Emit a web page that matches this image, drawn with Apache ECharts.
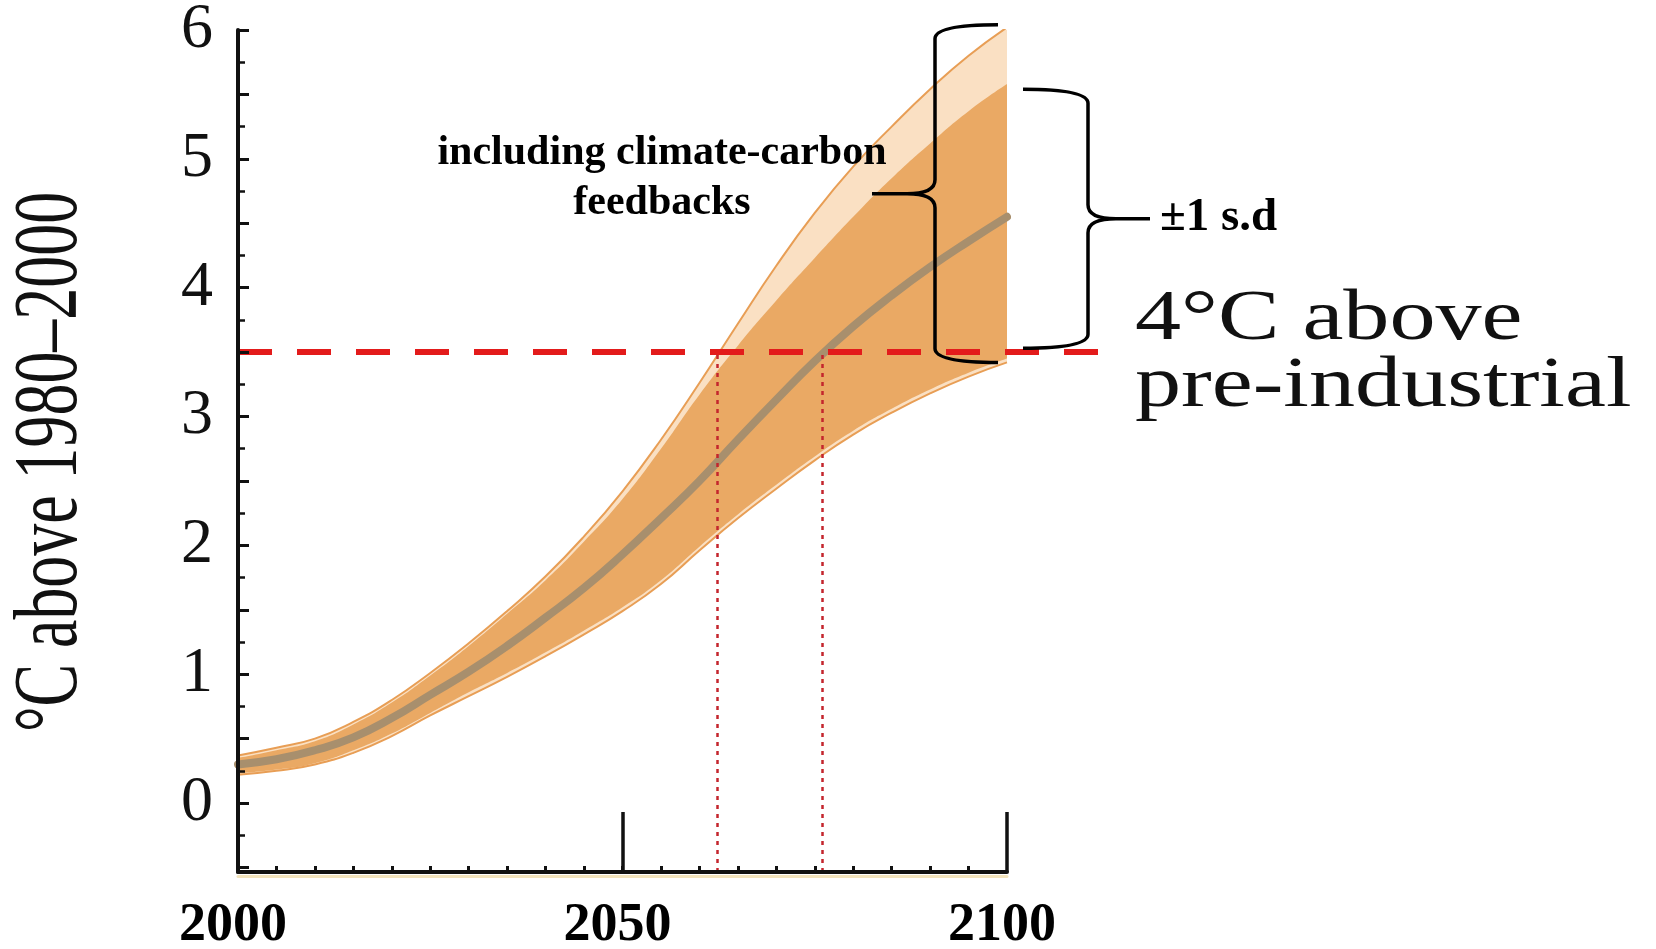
<!DOCTYPE html>
<html>
<head>
<meta charset="utf-8">
<title>Warming projection</title>
<script src="https://cdn.jsdelivr.net/npm/echarts@6/dist/echarts.min.js"></script>
<style>
  html, body { margin: 0; padding: 0; background: #fff; }
  #chart { width: 1656px; height: 949px; }
</style>
</head>
<body>
<div id="chart"></div>
<script>
// values (degC above 1980-2000)
const years = [2000, 2005, 2010, 2015, 2020, 2025, 2030, 2035, 2040, 2045, 2050,
               2055, 2060, 2065, 2070, 2075, 2080, 2085, 2090, 2095, 2100];
const meanT = [0.30, 0.34, 0.41, 0.51, 0.66, 0.84, 1.02, 1.22, 1.44, 1.67, 1.93,
               2.21, 2.50, 2.82, 3.13, 3.43, 3.70, 3.94, 4.16, 4.36, 4.55];
// band with climate-carbon feedbacks (light)
const outerUp = [0.37, 0.43, 0.50, 0.63, 0.80, 1.01, 1.24, 1.49, 1.76, 2.07, 2.42,
                 2.82, 3.26, 3.72, 4.17, 4.58, 4.94, 5.25, 5.54, 5.80, 6.02];
const outerLo = [0.22, 0.25, 0.30, 0.39, 0.52, 0.68, 0.83, 0.98, 1.14, 1.31, 1.49,
                 1.70, 1.96, 2.21, 2.44, 2.66, 2.86, 3.03, 3.18, 3.31, 3.42];
// +-1 s.d. band (dark)
const darkUp = [0.35, 0.41, 0.48, 0.61, 0.78, 0.99, 1.22, 1.47, 1.73, 2.03, 2.36,
                2.75, 3.17, 3.55, 3.90, 4.23, 4.55, 4.85, 5.12, 5.37, 5.58];
const darkLo = [0.23, 0.26, 0.31, 0.41, 0.54, 0.70, 0.86, 1.01, 1.17, 1.34, 1.52,
                1.73, 1.99, 2.24, 2.47, 2.69, 2.89, 3.06, 3.21, 3.34, 3.45];

const yLabels = [0, 1, 2, 3, 4, 5, 6];
const yMajorTicks = [-0.5, 0, 0.5, 1, 1.5, 2, 2.5, 3, 3.5, 4, 4.5, 5, 5.5, 6];
const yMinorTicks = [-0.25, 0.25, 0.75, 1.25, 1.75, 2.25, 2.75, 3.25, 3.75, 4.25, 4.75, 5.25, 5.75];
const xLabels = [2000, 2050, 2100];
const xTicks = [2005, 2010, 2015, 2020, 2025, 2030, 2035, 2040, 2045, 2050,
                2055, 2060, 2065, 2070, 2075, 2080, 2085, 2090, 2095];
const xLongTicks = [2050, 2100];

const threshold = 3.5;             // 4 degC above pre-industrial
const thresholdEnd = 2112.5;       // dashed line runs past the axis end
const crossYears = [2062.3, 2076]; // dotted drop lines
const braceRanges = [[3.42, 6.04], [3.53, 5.54]]; // at 2100

const yMin = -0.535, yMax = 6;
const SERIF = '"Liberation Serif", "Times New Roman", serif';
const LIGHT = '#FAE0C3', DARK = '#EAA964';

function pts(arr) {
  return years.map((y, i) => [y, arr[i]]);
}

const chart = echarts.init(document.getElementById('chart'), null, { renderer: 'canvas' });

// each layer is filled down to the axis start, later layers paint over earlier ones
function fillLayer(name, data, color) {
  return {
    name: name, type: 'line', xAxisIndex: 0, yAxisIndex: 0,
    data: data, smooth: true, symbol: 'none',
    lineStyle: { width: 0, opacity: 0 },
    areaStyle: { color: color, opacity: 1, origin: 'start' },
    silent: true, z: 2
  };
}
function edgeLine(name, data) {
  return {
    name: name, type: 'line', xAxisIndex: 0, yAxisIndex: 0,
    data: data, smooth: true, symbol: 'none',
    lineStyle: { color: '#E89E55', width: 2 }, silent: true, z: 2
  };
}

// curly braces drawn from data values at 2100
function braceItem(params, api) {
  const i = params.dataIndex;
  const top = api.coord([api.value(0), api.value(2)]);
  const bot = api.coord([api.value(0), api.value(1)]);
  const dir = i === 0 ? -1 : 1;
  const sx = top[0] + (i === 0 ? -72 : 81);
  const ax = sx - dir * (i === 0 ? 63 : 65);
  const tx = sx + dir * (i === 0 ? 63 : 62);
  const y1 = top[1], y2 = bot[1], ym = (y1 + y2) / 2, r = 14;
  const k = sx + dir * 2 * r;
  const d = 'M' + ax + ' ' + y1 + ' Q' + sx + ' ' + y1 + ' ' + sx + ' ' + (y1 + r) +
    ' L' + sx + ' ' + (ym - r) + ' Q' + sx + ' ' + ym + ' ' + k + ' ' + ym +
    ' L' + tx + ' ' + ym +
    ' M' + k + ' ' + ym + ' Q' + sx + ' ' + ym + ' ' + sx + ' ' + (ym + r) +
    ' L' + sx + ' ' + (y2 - r) + ' Q' + sx + ' ' + y2 + ' ' + ax + ' ' + y2;
  return {
    type: 'path',
    shape: { pathData: d },
    style: { fill: 'none', stroke: '#000', lineWidth: 3.5 }
  };
}

const option = {
  backgroundColor: '#fff',
  animation: false,
  grid: [
    { left: 238, right: 649, top: 30, bottom: 77, containLabel: false, outerBoundsMode: 'none' },
    { left: 238, right: 553, top: 30, bottom: 77, containLabel: false, outerBoundsMode: 'none' }
  ],
  xAxis: [
    {
      type: 'value', gridIndex: 0, min: 2000, max: 2100, position: 'bottom', z: 10,
      splitLine: { show: false },
      axisLine: { show: true, onZero: false, lineStyle: { color: '#111', width: 4 } },
      axisTick: { show: true, inside: true, length: 6, customValues: xTicks,
                  lineStyle: { color: '#111', width: 3 } },
      axisLabel: {
        show: true, customValues: xLabels, margin: 27, lineHeight: 54,
        formatter: v => String(v), padding: [0, 10, 0, 0],
        color: '#000', fontFamily: SERIF, fontWeight: 'bold', fontSize: 54
      }
    },
    {
      type: 'value', gridIndex: 0, min: 2000, max: 2100, position: 'bottom', z: 10,
      splitLine: { show: false },
      axisLine: { show: false, onZero: false },
      axisTick: { show: true, inside: true, length: 60, customValues: xLongTicks,
                  lineStyle: { color: '#111', width: 3.5 } },
      axisLabel: { show: false }
    },
    {
      type: 'value', gridIndex: 0, min: 2000, max: 2100, position: 'bottom', offset: 4,
      splitLine: { show: false },
      axisLine: { show: true, onZero: false, lineStyle: { color: '#F2E3BC', width: 3 } },
      axisTick: { show: false }, axisLabel: { show: false }
    },
    {
      type: 'value', gridIndex: 1, min: 2000, max: thresholdEnd, show: false
    }
  ],
  yAxis: [
    {
      type: 'value', gridIndex: 0, min: yMin, max: yMax, position: 'left', z: 10,
      splitLine: { show: false },
      axisLine: { show: true, onZero: false, lineStyle: { color: '#111', width: 4 } },
      axisTick: { show: true, inside: true, length: 11, customValues: yMajorTicks,
                  lineStyle: { color: '#111', width: 3 } },
      axisLabel: {
        show: true, customValues: yLabels, margin: 25,
        color: '#111', fontFamily: SERIF, fontSize: 64
      }
    },
    {
      type: 'value', gridIndex: 0, min: yMin, max: yMax, position: 'left', offset: 0, z: 10,
      splitLine: { show: false },
      axisLine: { show: false, onZero: false },
      axisTick: { show: true, inside: true, length: 7, customValues: yMinorTicks,
                  lineStyle: { color: '#111', width: 2.5 } },
      axisLabel: { show: false }
    },
    {
      type: 'value', gridIndex: 1, min: yMin, max: yMax, show: false
    }
  ],
  series: [
    fillLayer('outerUpper', pts(outerUp), LIGHT),
    fillLayer('darkUpper', pts(darkUp), DARK),
    fillLayer('darkLower', pts(darkLo), LIGHT),
    fillLayer('outerLower', pts(outerLo), '#ffffff'),
    edgeLine('outerUpEdge', pts(outerUp)),
    edgeLine('outerLoEdge', pts(outerLo)),
    {
      name: 'mean', type: 'line', xAxisIndex: 0, yAxisIndex: 0,
      data: pts(meanT), smooth: true, symbol: 'none',
      lineStyle: { color: '#A88F6D', width: 8, cap: 'round' }, silent: true, z: 3
    },
    {
      name: 'threshold', type: 'line', xAxisIndex: 3, yAxisIndex: 2,
      data: [[2000, threshold], [thresholdEnd, threshold]], symbol: 'none',
      lineStyle: { color: '#E31B1B', width: 6, type: [34, 25] }, silent: true, z: 4
    },
    {
      name: 'drops', type: 'line', xAxisIndex: 0, yAxisIndex: 0, data: [],
      symbol: 'none', silent: true, z: 5,
      markLine: {
        silent: true, symbol: 'none', label: { show: false },
        lineStyle: { color: '#C4252D', width: 2.5, type: [4, 5] },
        data: crossYears.map(y => [{ coord: [y, yMin] }, { coord: [y, threshold] }])
      }
    },
    {
      name: 'braces', type: 'custom', xAxisIndex: 0, yAxisIndex: 0,
      renderItem: braceItem, clip: false, silent: true, z: 6,
      data: braceRanges.map(r => [2100, r[0], r[1]])
    }
  ],
  graphic: [
    {
      type: 'text', x: 52, y: 462, rotation: Math.PI / 2, scaleX: 0.71, scaleY: 1, z: 100,
      style: { text: '°C above 1980–2000', font: '90px ' + SERIF, fill: '#111',
               align: 'center', verticalAlign: 'middle',
               textAlign: 'center', textVerticalAlign: 'middle' }
    },
    {
      type: 'text', x: 662, y: 178, z: 100,
      style: { text: 'including climate-carbon\nfeedbacks', font: 'bold 42px ' + SERIF,
               lineHeight: 50, fill: '#000',
               align: 'center', verticalAlign: 'middle',
               textAlign: 'center', textVerticalAlign: 'middle' }
    },
    {
      type: 'text', x: 1160, y: 218, z: 100,
      style: { text: '±1 s.d', font: 'bold 47px ' + SERIF, fill: '#000',
               align: 'left', verticalAlign: 'middle',
               textAlign: 'left', textVerticalAlign: 'middle' }
    },
    {
      type: 'text', x: 1135, y: 354, scaleX: 1.28, scaleY: 1, z: 100,
      style: { text: '4°C above\npre-industrial', font: '72px ' + SERIF,
               lineHeight: 67, fill: '#111',
               align: 'left', verticalAlign: 'middle',
               textAlign: 'left', textVerticalAlign: 'middle' }
    }
  ]
};

chart.setOption(option);
window.onresize = chart.resize;
</script>
</body>
</html>
